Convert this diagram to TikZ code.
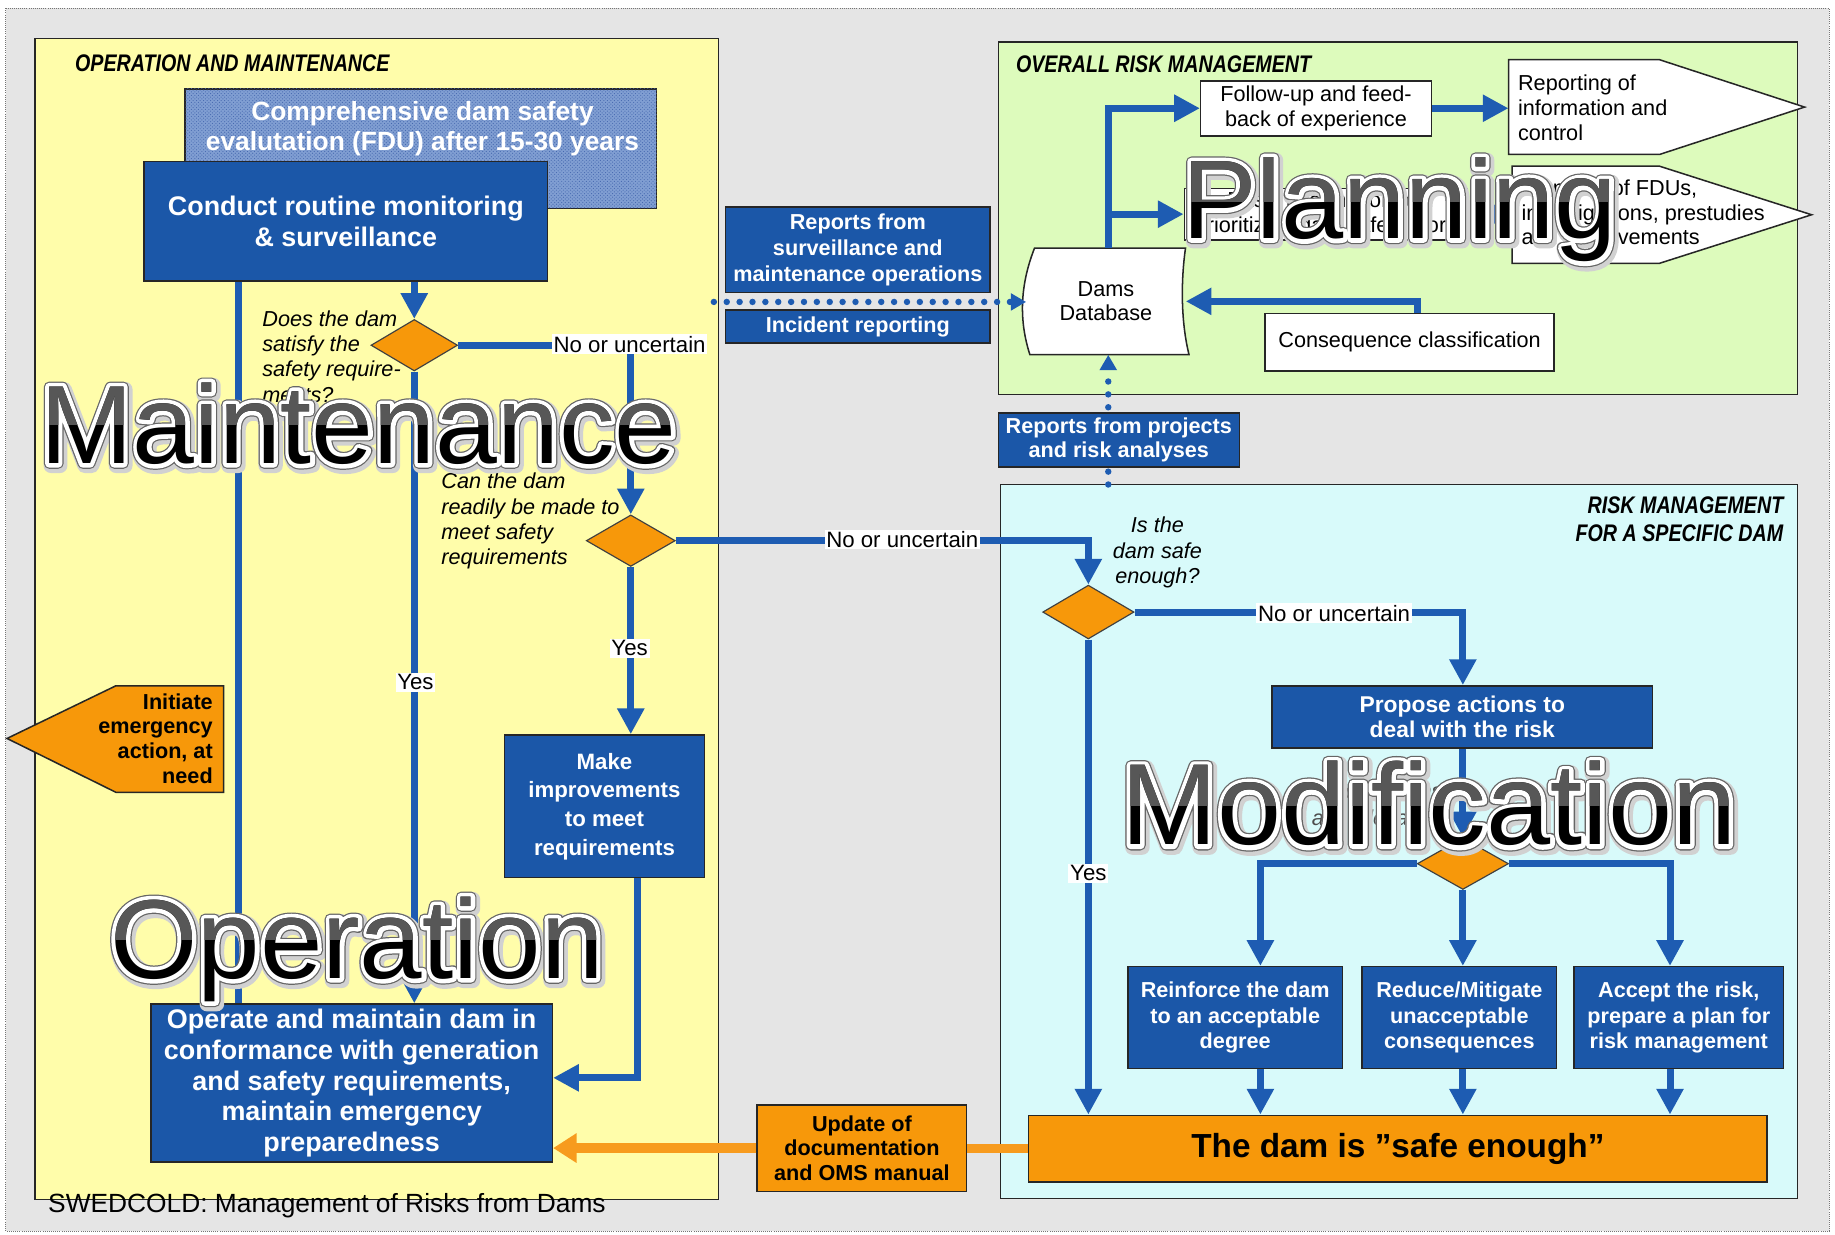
\documentclass[tikz,border=0pt]{standalone}
\usepackage{fontspec}
\setmainfont{Liberation Sans}
\newfontfamily\condfont[FakeStretch=0.82]{Liberation Sans}
\newfontfamily\haloface[FakeBold=7.4]{Liberation Sans}
\newfontfamily\rimface[FakeBold=9.6]{Liberation Sans}
\newfontfamily\softface[FakeBold=13]{Liberation Sans}
\usetikzlibrary{arrows.meta,patterns,shapes.geometric}

\definecolor{pagegray}{RGB}{229,229,229}
\definecolor{opyellow}{RGB}{255,253,170}
\definecolor{riskgreen}{RGB}{221,251,188}
\definecolor{damcyan}{RGB}{216,250,250}
\definecolor{boxblue}{RGB}{27,87,168}
\definecolor{flowblue}{RGB}{30,92,178}
\definecolor{orangefill}{RGB}{247,152,10}
\definecolor{orangeline}{RGB}{247,155,30}
\definecolor{fdublue}{RGB}{128,158,210}
\definecolor{fduhatch}{RGB}{70,105,175}

\newcommand\fsz[2]{\fontsize{#1}{#2}\selectfont}

% big glossy overlay word: #1 name, #2 x, #3 baseline, #4 size, #5 lower edge of the grey top, #6 word
\newcommand\glossword[6]{%
  \node[bigword, font=\softface\fsz{#4}{#4}, text=black!18] (#1-soft) at ([shift={(1.5,2)}]#2,#3) {#6};
  \node[bigword, font=\rimface\fsz{#4}{#4}, text=black!60] (#1-rim) at (#2,#3) {#6};
  \node[bigword, font=\haloface\fsz{#4}{#4}, text=white] (#1-halo) at (#2,#3) {#6};
  \node[bigword, font=\fsz{#4}{#4}, text=black] (#1) at (#2,#3) {#6};
  \begin{scope}
    \clip (#2-20,#3-#4) rectangle (#2+700,#5);
    \node[bigword, font=\fsz{#4}{#4}, text=black!66] (#1-top) at (#2,#3) {#6};
  \end{scope}}

\tikzset{
  outline/.style={draw=black!85, line width=1.3pt},
  bluebox/.style={outline, fill=boxblue, text=white, align=center, inner sep=0pt},
  whitebox/.style={outline, fill=white, align=center, inner sep=0pt},
  orbox/.style={outline, fill=orangefill, text=black, align=center, inner sep=0pt},
  decision/.style={diamond, draw=black!75, line width=1pt, fill=orangefill, inner sep=0pt},
  panel/.style={draw=black!85, line width=1.3pt},
  paneltitle/.style={font=\condfont\fsz{20.5}{24}\bfseries\itshape, inner sep=0pt},
  flow/.style={draw=flowblue, line width=6pt, -{Triangle[width=22pt,length=22pt]}},
  flowplain/.style={draw=flowblue, line width=6pt},
  dotflow/.style={draw=flowblue, line width=5.5pt, line cap=round, dash pattern=on 0pt off 11pt, -{Triangle[width=14pt,length=13pt]}},
  orflow/.style={draw=orangeline, line width=8pt},
  yesno/.style={fill=white, inner sep=1.5pt, font=\fsz{19}{21}},
  question/.style={font=\fsz{18.5}{21.7}\itshape, inner sep=0pt},
  smallbold/.style={font=\fsz{18.5}{22}\bfseries},
  plain/.style={font=\fsz{18.5}{21}},
  bigword/.style={anchor=base west, inner sep=0pt, line join=round},
}

\begin{document}
\begin{tikzpicture}[x=1pt,y=-1pt]
\useasboundingbox (0,0) rectangle (1568,1055);
\fill[white] (0,0) rectangle (1568,1055);
\fill[pagegray] (5,7) rectangle (1563,1052);
\draw[black!55, densely dotted, line width=0.8pt] (5,7) rectangle (1563,1052);

% ---------- panels ----------
\draw[panel, fill=opyellow] (30,33) rectangle (614,1025);
\draw[panel, fill=riskgreen] (853,36) rectangle (1536,337);
\draw[panel, fill=damcyan] (855,414) rectangle (1536,1024);
\node[paneltitle, anchor=base west] (t-om) at (64,61.5) {OPERATION AND MAINTENANCE};
\node[paneltitle, anchor=base west] (t-orm) at (868,62) {OVERALL RISK MANAGEMENT};
\node[paneltitle, anchor=base east] (t-rm1) at (1524,438.5) {RISK MANAGEMENT};
\node[paneltitle, anchor=base east] (t-rm2) at (1524,463) {FOR A SPECIFIC DAM};

% ---------- operation and maintenance ----------
\node[outline, minimum width=403, minimum height=102, fill=fdublue,
      postaction={pattern=crosshatch dots, pattern color=fduhatch}] (fdu) at (359.5,127) {};
\node[text=white, font=\fsz{22.5}{26}\bfseries, align=center, inner sep=0pt] (fdu-text) at (361,110)
  {Comprehensive dam safety\\evalutation (FDU) after 15-30 years};
\node[bluebox, font=\fsz{23}{27}\bfseries, minimum width=345, minimum height=102] (conduct) at (295.5,189)
  {Conduct routine monitoring\\\& surveillance};
\node[decision, minimum width=74, minimum height=44] (d1) at (354,295) {};
\node[decision, minimum width=76, minimum height=44] (d2) at (539,462) {};
\node[bluebox, font=\fsz{19}{24.5}\bfseries, minimum width=171, minimum height=122] (make) at (516.5,689)
  {Make\\improvements\\to meet\\requirements};
\node[bluebox, font=\fsz{23}{26.2}\bfseries, minimum width=343, minimum height=135] (opr) at (300.5,925.5)
  {Operate and maintain dam in\\conformance with generation\\and safety requirements,\\maintain emergency\\preparedness};
\draw[outline, fill=orangefill] (99,586) -- (191,586) -- (191,677) -- (99,677) -- (6,631) -- cycle;
\node[font=\fsz{18.5}{21}\bfseries, align=right, anchor=east, inner sep=0pt] (initiate) at (182,631)
  {Initiate\\emergency\\action, at\\need};
\node[question, align=left, anchor=north west] (q1) at (224,265) {Does the dam\\satisfy the\\safety require-\\ments?};
\node[question, align=left, anchor=north west] (q2) at (377,404) {Can the dam\\readily be made to\\meet safety\\requirements};

\draw[flow] (conduct.south -| d1.north) -- (d1.north);
\draw[flow] (d1.east) -| (d2.north);
\draw[flow] (d1.south) -- (d1.south |- opr.north);
\coordinate (leftrail) at (204,0);
\draw[flowplain] (conduct.south -| leftrail) -- (opr.north -| leftrail);
\draw[flow] (d2.south) -- (d2.south |- make.north);
\coordinate (makebend) at (545,921);
\draw[flow] (make.south -| makebend) -- (makebend) -- (opr.east |- makebend);

% ---------- reports and database ----------
\node[bluebox, smallbold, minimum width=226, minimum height=73] (rsurv) at (733,213.5)
  {Reports from\\surveillance and\\maintenance operations};
\node[bluebox, smallbold, minimum width=226, minimum height=28] (incid) at (733,279) {Incident reporting};
\draw[outline, fill=white] (884,212) .. controls (871,245) and (871,275) .. (880,303)
  -- (1016,303) .. controls (1009,275) and (1009,240) .. (1013,212) -- cycle;
\node[plain, align=center, minimum width=136, minimum height=91, inner sep=0pt] (db) at (945,257.5) {Dams\\Database};
\coordinate (dotstart) at (610,258);
\draw[dotflow] (dotstart) -- (db.west |- dotstart);
\coordinate (cyantop) at (947,414);
\draw[dotflow] (cyantop) -- (cyantop |- db.south);
\node[bluebox, font=\fsz{18.5}{21}\bfseries, minimum width=206, minimum height=46] (rproj) at (956,376)
  {Reports from projects\\and risk analyses};

% ---------- overall risk management ----------
\node[whitebox, plain, minimum width=197, minimum height=47] (follow) at (1124.5,92.5)
  {Follow-up and feed-\\back of experience};
\node[whitebox, plain, minimum width=242, minimum height=44] (basic) at (1133,183)
  {Basic information for\\prioritizing dam safety work};
\node[whitebox, plain, minimum width=247, minimum height=49] (cons) at (1204.5,292.5)
  {Consequence classification};
\draw[outline, fill=white] (1289,51) -- (1418,51) -- (1542,91.5) -- (1418,132) -- (1289,132) -- cycle;
\node[font=\fsz{18.5}{21.5}, align=left, anchor=west, inner xsep=8pt, inner ysep=0pt] (rep) at (1289,92)
  {Reporting of\\information and\\control};
\draw[outline, fill=white] (1292,142) -- (1418,142) -- (1548,183.5) -- (1418,225) -- (1292,225) -- cycle;
\node[font=\fsz{18.5}{21}, align=left, anchor=west, inner xsep=8pt, inner ysep=0pt] (plan) at (1292,183.5)
  {Planning of FDUs,\\investigations, prestudies\\and improvements};

\draw[flow] (db.north -| cyantop) |- (follow.west);
\draw[flow] (cyantop |- basic.west) -- (basic.west);
\draw[flow] (follow.east) -- (rep.west |- follow.east);
\draw[flow] (basic.east) -- (plan.west |- basic.east);
\coordinate (consbend) at (1211,0);
\draw[flow] (cons.north -| consbend) |- (db.east);

% ---------- risk management for a specific dam ----------
\node[decision, minimum width=78, minimum height=46] (d3) at (930,523) {};
\node[question, align=center, anchor=north] (q3) at (989,441.5) {Is the\\dam safe\\enough?};
\node[bluebox, font=\fsz{19.5}{22}\bfseries, minimum width=325, minimum height=53] (prop) at (1249.5,612.5)
  {Propose actions to\\deal with the risk};
\node[font=\fsz{18.5}{23}\itshape, text=black!70, align=center, inner sep=0pt] (which) at (1175,687)
  {Which actions\\are relevant?};
\node[decision, minimum width=78, minimum height=44] (d4) at (1250,738) {};
\node[bluebox, smallbold, minimum width=183, minimum height=87] (reinf) at (1055.5,869.5)
  {Reinforce the dam\\to an acceptable\\degree};
\node[bluebox, smallbold, minimum width=166, minimum height=87] (reduce) at (1247,869.5)
  {Reduce/Mitigate\\unacceptable\\consequences};
\node[bluebox, smallbold, minimum width=179, minimum height=87] (accept) at (1434.5,869.5)
  {Accept the risk,\\prepare a plan for\\risk management};
\node[orbox, font=\fsz{28.5}{30}\bfseries, minimum width=631, minimum height=57] (safe) at (1194.5,981.5)
  {The dam is ”safe enough”};
\node[orbox, font=\fsz{18.5}{21}\bfseries, minimum width=179, minimum height=74] (upd) at (736.5,981)
  {Update of\\documentation\\and OMS manual};

\draw[flow] (d2.east) -| (d3.north);
\draw[flow] (d3.east) -| (prop.north -| d4.north);
\draw[flow] (d3.south) -- (d3.south |- safe.north);
\draw[flow] (prop.south -| d4.north) -- (d4.north);
\coordinate (reinfx) at ([xshift=21.5pt]reinf.south);
\coordinate (acceptx) at ([xshift=-7.5pt]accept.south);
\draw[flow] (d4.west) -| (reinfx |- reinf.north);
\draw[flow] (d4.south) -- (d4.south |- reduce.north);
\draw[flow] (d4.east) -| (acceptx |- accept.north);
\draw[flow] (reinfx) -- (reinfx |- safe.north);
\draw[flow] (reduce.south -| d4.south) -- (d4.south |- safe.north);
\draw[flow] (acceptx) -- (acceptx |- safe.north);

\draw[orflow] (safe.west) -- (upd.east |- safe.west);
\draw[orflow, -{Triangle[width=24pt,length=20pt]}] (upd.west) -- (opr.east |- upd.west);

% ---------- branch labels ----------
\node[yesno] (nu1) at (538,294) {No or uncertain};
\node[yesno] (nu2) at (771,461) {No or uncertain};
\node[yesno] (nu3) at (1140,524) {No or uncertain};
\node[yesno] (yes1) at (355,583) {Yes};
\node[yesno] (yes2) at (538,554) {Yes};
\node[yesno] (yes3) at (930,746) {Yes};

\node[font=\fsz{22.5}{24}, anchor=base west, inner sep=0pt] (credit) at (41,1036)
  {SWEDCOLD: Management of Risks from Dams};

% ---------- overlay words ----------
\glossword{wmaint}{34}{396}{95}{363}{Maintenance}
\glossword{wplan}{1010}{204}{95.5}{172}{Planning}
\glossword{wmod}{958}{722}{98.5}{688}{Modification}
\glossword{woper}{94}{836}{96}{803}{Operation}
\end{tikzpicture}
\end{document}
